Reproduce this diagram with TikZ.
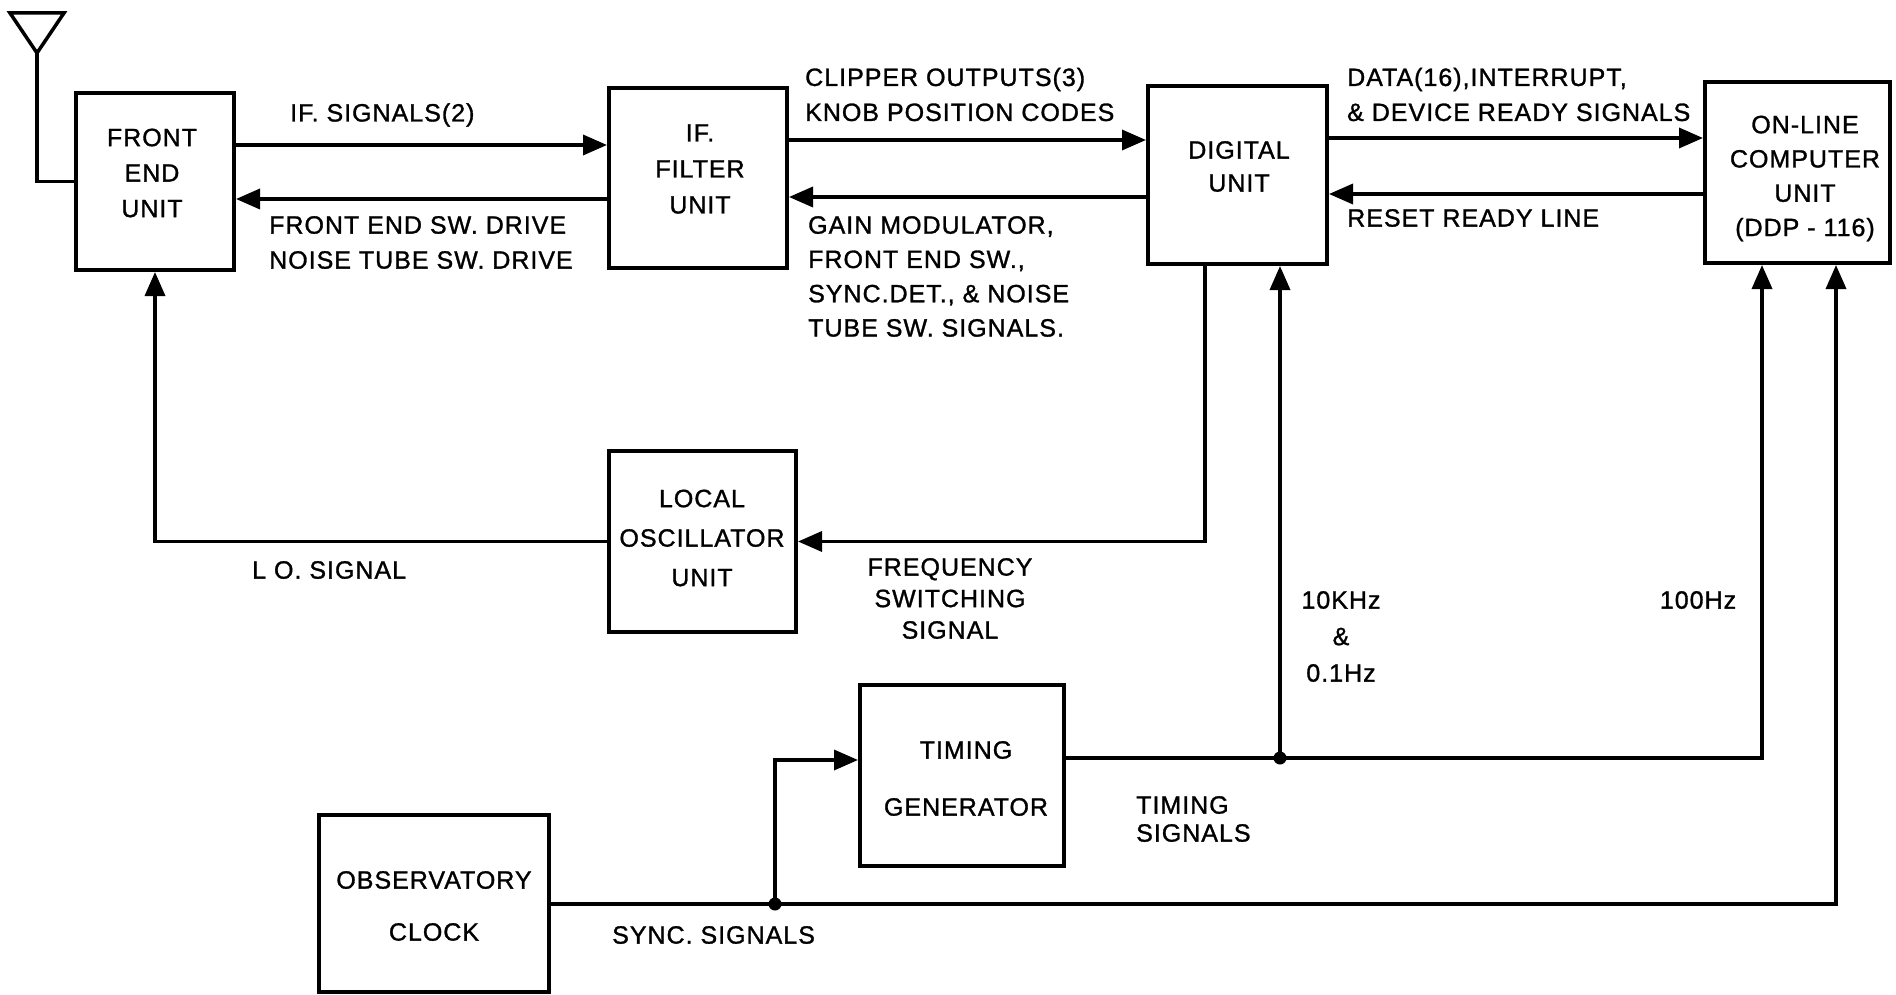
\documentclass[tikz,border=0pt]{standalone}
\usepackage{fontspec}
\setmainfont[LetterSpace=4,FakeBold=1.2]{Liberation Sans}
\usetikzlibrary{arrows.meta}
\begin{document}
\begin{tikzpicture}[x=1pt,y=-1pt,
  box/.style={draw, line width=4pt, inner sep=0pt},
  lbl/.style={inner sep=0pt, font=\fontsize{25}{#1}\selectfont},
  lbl/.default=35,
  wire/.style={line width=3.5pt},
  arr/.style={wire, -{Triangle[length=24pt,width=20pt]}}]
\useasboundingbox (0,0) rectangle (1896,995);

% boxes
\node[box, minimum width=158pt, minimum height=177pt] (fe) at (155,181.5) {};
\node[box, minimum width=178pt, minimum height=180pt] (iff) at (698,178) {};
\node[box, minimum width=179pt, minimum height=178pt] (dig) at (1237.5,175) {};
\node[box, minimum width=185pt, minimum height=181pt] (ocu) at (1797.5,172.5) {};
\node[box, minimum width=187pt, minimum height=181pt] (lo) at (702.5,541.5) {};
\node[box, minimum width=204pt, minimum height=181pt] (tg) at (962,775.5) {};
\node[box, minimum width=230pt, minimum height=177pt] (clk) at (434,903.5) {};

% box texts
\node[lbl=35.5, align=center] (fet) at (152,173) {FRONT\\END\\UNIT};
\node[lbl=36, align=center] (ifft) at (700,169) {IF.\\FILTER\\UNIT};
\node[lbl=33, align=center] (digt) at (1239,166.5) {DIGITAL\\UNIT};
\node[lbl=34.3, align=center] (ocut) at (1805,178.5) {ON-LINE\\COMPUTER\\UNIT\\(DDP - 116)};
\node[lbl=39.5, align=center] (lot) at (702,538) {LOCAL\\OSCILLATOR\\UNIT};
\node[lbl=57, align=center] (tgt) at (966,778.5) {TIMING\\GENERATOR};
\node[lbl=52, align=center] (clkt) at (434,906) {OBSERVATORY\\CLOCK};

% antenna
\coordinate (antL) at (10,13);
\coordinate (antR) at (64,13);
\coordinate (ant) at (37,53);
\draw[wire, line join=miter] (antL) -- (antR) -- (ant) -- cycle;
\draw[wire] (ant) |- (fe.west);

% top row connectors
\draw[arr] (fe.east |- 0,145) -- (iff.west |- 0,145);
\draw[arr] (iff.west |- 0,199) -- (fe.east |- 0,199);
\draw[arr] (iff.east |- 0,140) -- (dig.west |- 0,140);
\draw[arr] (dig.west |- 0,197) -- (iff.east |- 0,197);
\draw[arr] (dig.east |- 0,138) -- (ocu.west |- 0,138);
\draw[arr] (ocu.west |- 0,194) -- (dig.east |- 0,194);

% local oscillator
\draw[arr] (lo.west) -| (fe.south);
\draw[arr] (dig.south -| 1205,0) |- (lo.east);

% timing
\coordinate (j2) at (1280,758);
\coordinate (j1) at (775,904);
\draw[wire] (tg.east |- j2) -- (j2);
\draw[arr] (j2) -- (j2 |- dig.south);
\draw[arr] (j2) -| ([xshift=-35.5pt]ocu.south);
\draw[wire] (clk.east |- j1) -- (j1);
\draw[arr] (j1) |- (tg.west |- 0,760);
\draw[arr] (j1) -| ([xshift=38.5pt]ocu.south);
\fill (j1) circle[radius=6.5pt];
\fill (j2) circle[radius=6.5pt];

% connector labels
\node[lbl, anchor=west] (l1) at (290,115) {IF. SIGNALS(2)};
\node[lbl, align=left, anchor=west] (l2) at (269,242.5) {FRONT END SW. DRIVE\\NOISE TUBE SW. DRIVE};
\node[lbl, align=left, anchor=west] (l3) at (805,94.5) {CLIPPER OUTPUTS(3)\\KNOB POSITION CODES};
\node[lbl=34.3, align=left, anchor=west] (l4) at (808,276.5) {GAIN MODULATOR,\\FRONT END SW.,\\SYNC.DET., \& NOISE\\TUBE SW. SIGNALS.};
\node[lbl, align=left, anchor=west] (l5) at (1347,94.5) {DATA(16),INTERRUPT,\\\& DEVICE READY SIGNALS};
\node[lbl, anchor=west] (l6) at (1347,218) {RESET READY LINE};
\node[lbl, anchor=west] (l7) at (252,570) {L O. SIGNAL};
\node[lbl=31.5, align=center] (l8) at (950,598.5) {FREQUENCY\\SWITCHING\\SIGNAL};
\node[lbl=36.5, align=center] (l9) at (1341,636.5) {10KHz\\\&\\0.1Hz};
\node[lbl] (l10) at (1698,600) {100Hz};
\node[lbl=28, align=left, anchor=west] (l11) at (1136,819) {TIMING\\SIGNALS};
\node[lbl, anchor=west] (l12) at (612,935) {SYNC. SIGNALS};
\end{tikzpicture}
\end{document}
